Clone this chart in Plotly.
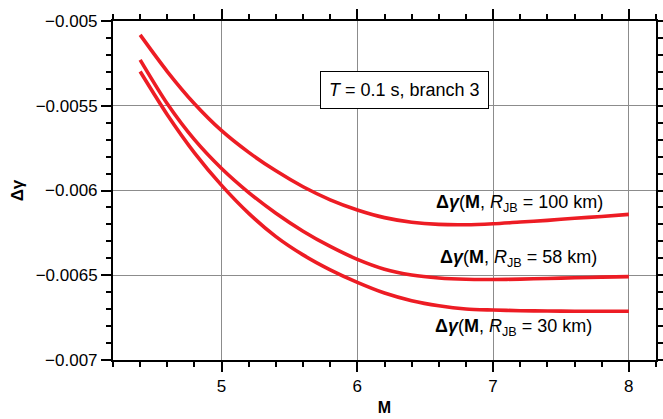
import plotly.graph_objects as go

M = [4.4, 4.6, 4.8, 5.0, 5.2, 5.4, 5.6, 5.8, 6.0, 6.2, 6.4, 6.6, 6.8, 7.0, 7.2, 7.4, 7.6, 7.8, 8.0]
dg_100 = [-0.005082, -0.005298, -0.005488, -0.005647, -0.005775, -0.005884, -0.005978, -0.006055, -0.006115,
          -0.006160, -0.006187, -0.006200, -0.006202, -0.006196, -0.006186, -0.006176, -0.006164, -0.006153, -0.006141]
dg_58 = [-0.005229, -0.005488, -0.005700, -0.005870, -0.006012, -0.006134, -0.006240, -0.006330, -0.006406,
         -0.006464, -0.006498, -0.006516, -0.006524, -0.006525, -0.006523, -0.006519, -0.006515, -0.006511, -0.006508]
dg_30 = [-0.005298, -0.005553, -0.005778, -0.005970, -0.006135, -0.006272, -0.006380, -0.006468, -0.006542,
         -0.006605, -0.006650, -0.006680, -0.006699, -0.006705, -0.006709, -0.006711, -0.006712, -0.006712, -0.006712]

y_tickvals = [-0.007, -0.0065, -0.006, -0.0055, -0.005]
y_ticktext = ["\u22120.007", "\u22120.0065", "\u22120.006", "\u22120.0055", "\u22120.005"]
x_tickvals = [5, 6, 7, 8]

labels = [
    ("<b>\u0394<i>\u03b3</i></b>(<b>M</b>, <i>R</i><sub>JB</sub> = 100 km)", 7.194, -0.006078),
    ("<b>\u0394<i>\u03b3</i></b>(<b>M</b>, <i>R</i><sub>JB</sub> = 58 km)", 7.19, -0.006400),
    ("<b>\u0394<i>\u03b3</i></b>(<b>M</b>, <i>R</i><sub>JB</sub> = 30 km)", 7.15, -0.006811),
]

RED = "#ED1C24"
FONT = "Liberation Sans, Arial, Helvetica, sans-serif"

fig = go.Figure()
for ys in (dg_100, dg_58, dg_30):
    fig.add_trace(go.Scatter(x=M, y=ys, mode="lines", line=dict(color=RED, width=3.6, shape="spline", smoothing=0.8),
                             showlegend=False, hoverinfo="skip"))

for txt, xx, yy in labels:
    fig.add_annotation(x=xx, y=yy, text=txt, showarrow=False, xanchor="center", yanchor="middle",
                       font=dict(family=FONT, size=18, color="black"))

fig.add_annotation(xref="paper", yref="paper", x=(404 - 113) / (656 - 113), y=1 - (90 - 21) / (360 - 21),
                   xanchor="center", yanchor="middle", text="<i>T</i> = 0.1 s, branch 3",
                   showarrow=False, font=dict(family=FONT, size=18, color="black"),
                   bgcolor="white", bordercolor="black", borderwidth=1, borderpad=8)

fig.update_xaxes(range=[4.2, 8.2], tickvals=x_tickvals, ticks="outside", ticklen=10, tickwidth=1.5, tickcolor="black",
                 showline=True, linecolor="black", linewidth=2, mirror="ticks", automargin=False,
                 showgrid=True, gridcolor="#8c8c8c", gridwidth=1, zeroline=False,
                 minor=dict(dtick=0.2, tick0=4.2, ticks="outside", ticklen=5, tickwidth=1.5, tickcolor="black", showgrid=False),
                 tickfont=dict(family=FONT, size=17, color="black"),
                 title=dict(text="<b>M</b>", font=dict(family=FONT, size=16, color="black"), standoff=6))
fig.update_yaxes(range=[-0.007, -0.005], tickvals=y_tickvals, ticktext=y_ticktext, ticks="outside", ticklen=10,
                 tickwidth=1.5, tickcolor="black", automargin=False,
                 showline=True, linecolor="black", linewidth=2, mirror="ticks",
                 showgrid=True, gridcolor="#8c8c8c", gridwidth=1, zeroline=False,
                 minor=dict(dtick=0.0001, tick0=-0.007, ticks="outside", ticklen=5, tickwidth=1.5, tickcolor="black", showgrid=False),
                 tickfont=dict(family=FONT, size=17, color="black"),
                 title=dict(text="<b>\u0394\u03b3</b>", font=dict(family=FONT, size=17, color="black"), standoff=8))

fig.update_layout(width=663, height=419, margin=dict(l=113, r=7, t=21, b=59),
                  plot_bgcolor="white", paper_bgcolor="white")

fig.write_html("out.html")
